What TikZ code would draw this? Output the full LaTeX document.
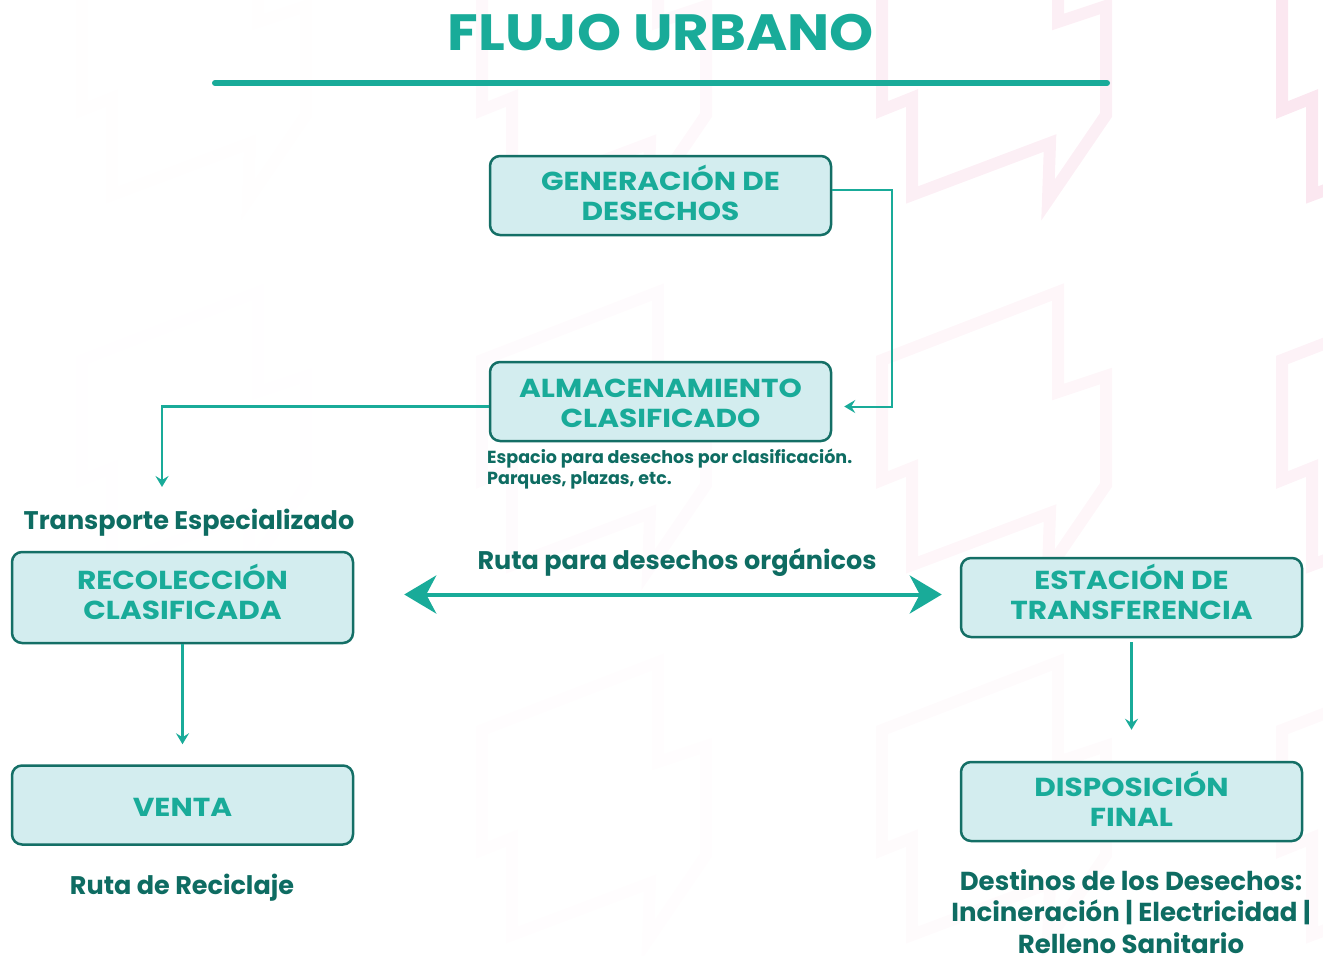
\documentclass[tikz,border=0pt]{standalone}
\usepackage{fontspec}
\setmainfont{Poppins}
\newfontfamily\boxfont{Poppins}[FakeStretch=1.14]
\newfontfamily\titlefont{Poppins}[FakeStretch=1.1]
\usetikzlibrary{arrows.meta}
\definecolor{flow-teal}{HTML}{19AB99}
\definecolor{deep-teal}{HTML}{0E6C62}
\definecolor{box-fill}{HTML}{D3EDEF}
\definecolor{box-edge}{HTML}{146F66}
\definecolor{zig-pink}{HTML}{F6C9DD}
% nudge box text up (extra depth) or down (extra height)
\newcommand{\liftup}[1]{\rule[-#1]{0pt}{#1}}
\newcommand{\dropdown}[1]{\rule{0pt}{#1}}

\begin{document}
\begin{tikzpicture}[x=1pt, y=-1pt,
      every node/.style={font=\bfseries},
      stagebox/.style={draw=box-edge, fill=box-fill, rounded corners=10pt, line width=2.5pt,
        minimum width=341pt, minimum height=79pt, align=center, text=flow-teal,
        font=\boxfont\fontsize{26}{30}\selectfont\bfseries},
      tag/.style={text=deep-teal, align=center, font=\fontsize{25.5}{31.5}\selectfont\bfseries},
      note/.style={text=deep-teal, align=left, inner sep=0pt, font=\fontsize{17.5}{21}\selectfont\bfseries},
      flow/.style={draw=flow-teal, line width=2.5pt, -{Stealth[length=11pt, width=13pt, inset=4pt]}},
      bigflow/.style={draw=flow-teal, line width=4pt,
        {Stealth[length=32pt, width=38pt, inset=10pt]}-{Stealth[length=32pt, width=38pt, inset=10pt]}},
      zigband/.style={draw=zig-pink, line width=12pt, line join=miter}]

    \useasboundingbox (0,0) rectangle (1323,956);

    % faint pink zigzag backdrop, fading to the left and downwards
    \foreach \i/\ci in {0/0.04,1/0.22,2/0.55,3/0.8} {
      \foreach \j/\cj in {0/1,1/0.55,2/0.25} {
        \pgfmathsetmacro{\zigop}{0.55*\ci*\cj}
        \draw[zigband, draw opacity=\zigop, shift={(82+400*\i,370*\j)}]
          (0,-10) -- (0,110) -- (30,98) -- (30,195) -- (168,143) -- (166,200)
          -- (224,115) -- (224,6) -- (176,22) -- (176,-78) -- cycle;
      }
    }

    % title and rule
    \node[text=flow-teal, font=\titlefont\fontsize{51}{51}\selectfont\bfseries] (title) at (661,33) {FLUJO URBANO};
    \draw[line width=6pt, line cap=round, flow-teal] (215,83) -- (1107,83);

    % stages
    \node[stagebox] (GEN) at (660.5,195.5) {GENERACIÓN DE\\DESECHOS\liftup{6pt}};
    \node[stagebox] (ALM) at (660.5,401.5) {\dropdown{22pt}ALMACENAMIENTO\\CLASIFICADO};
    \node[stagebox, minimum height=91pt] (REC) at (182.5,597.5) {RECOLECCIÓN\\CLASIFICADA\liftup{12pt}};
    \node[stagebox] (VENTA) at (182.5,805) {\dropdown{22pt}VENTA};
    \node[stagebox] (EST) at (1131.5,597.5) {ESTACIÓN DE\\TRANSFERENCIA\liftup{11pt}};
    \node[stagebox] (DISP) at (1131.5,801.5) {DISPOSICIÓN\\FINAL\liftup{5pt}};

    % route labels
    \node[note, anchor=base west] (espacio) at (487,484)
      {Espacio para desechos por clasificación.\\Parques, plazas, etc.};
    \node[tag] (trans) at (189,523) {Transporte Especializado};
    \node[tag] (organ) at (677,562) {Ruta para desechos orgánicos};
    \node[tag] (recic) at (182,888) {Ruta de Reciclaje};
    \node[tag, font=\fontsize{26}{31.5}\selectfont\bfseries] (destin) at (1131,911.5)
      {Destinos de los Desechos:\\Incineración | Electricidad |\\Relleno Sanitario};

    % connectors
    \coordinate (transin) at (162,487);
    \draw[flow, line width=2pt] ([yshift=6pt]GEN.east) -- ++(60,0) |- ([xshift=12pt,yshift=-5pt]ALM.east);
    \draw[flow] ([yshift=-5pt]ALM.west) -| (transin);
    \draw[flow] (REC.south) -- ([yshift=20pt]VENTA.north);
    \draw[flow] ([yshift=-4pt]EST.south) -- ([yshift=31pt]DISP.north);
    % organic route, both ways
    \draw[bigflow] ([xshift=50pt,yshift=3pt]REC.east) -- ([xshift=-18pt,yshift=3pt]EST.west);
\end{tikzpicture}
\end{document}
